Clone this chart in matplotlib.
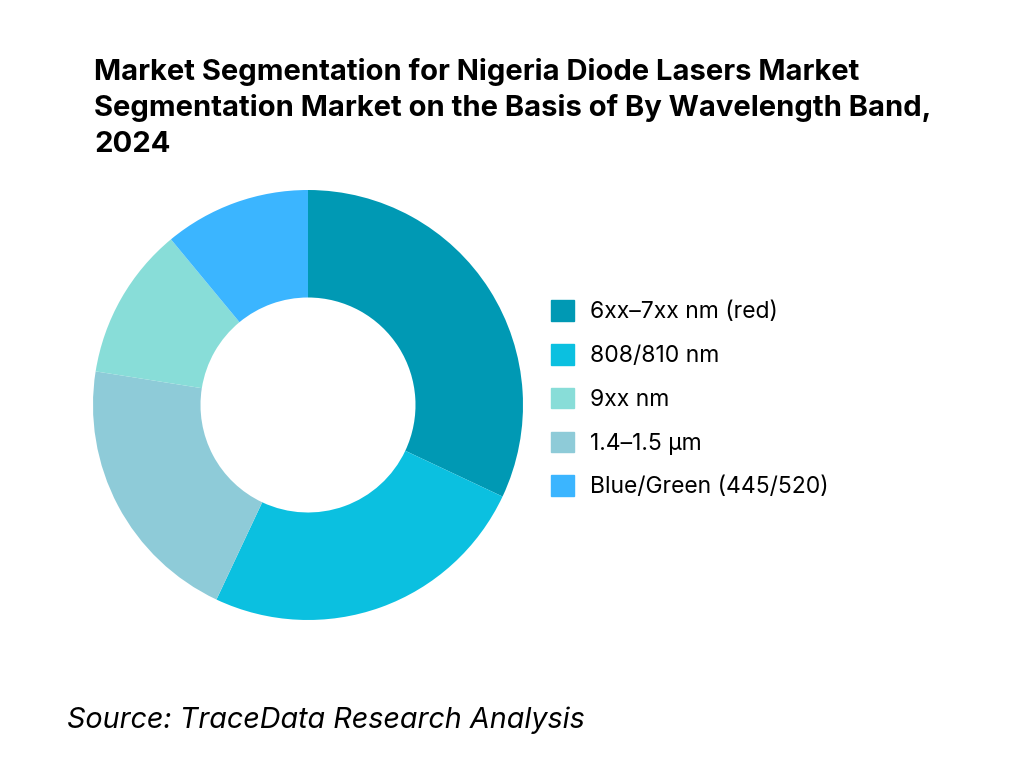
import matplotlib
matplotlib.use("Agg")
import matplotlib.pyplot as plt
from matplotlib.patches import Patch

labels = ["6xx–7xx nm (red)", "808/810 nm", "9xx nm", "1.4–1.5 µm", "Blue/Green (445/520)"]
values = [32, 25, 11.5, 20.5, 11]
colors = ["#0099B4", "#0BC0E0", "#88DDD8", "#8ECBD8", "#3BB5FF"]
pie_order = [0, 1, 3, 2, 4]

plt.rcParams['font.family'] = ['Inter', 'DejaVu Sans']
fig = plt.figure(figsize=(10.24, 7.68), dpi=100)
ax = fig.add_axes([93/1024, 148/768, 430/1024, 430/768])
ax.pie([values[i] for i in pie_order], colors=[colors[i] for i in pie_order],
       startangle=90, counterclock=False, wedgeprops=dict(width=0.5, linewidth=0))
ax.set_xlim(-1, 1); ax.set_ylim(-1, 1)
ax.set_aspect('equal')
fig.text(0.092, 0.925, "Market Segmentation for Nigeria Diode Lasers Market\nSegmentation Market on the Basis of By Wavelength Band,\n2024",
         fontsize=21, fontweight='bold', va='top', ha='left', linespacing=1.4)
handles = [Patch(color=c) for c in colors]
fig.legend(handles, labels, loc='center left', bbox_to_anchor=(0.518, 0.48), frameon=False,
           fontsize=16.5, handlelength=1.0, handleheight=1.0, labelspacing=0.9, handletextpad=0.7)
fig.text(0.065, 0.052, "Source: TraceData Research Analysis", fontsize=20.7, style='italic')
fig.savefig("out.png")
